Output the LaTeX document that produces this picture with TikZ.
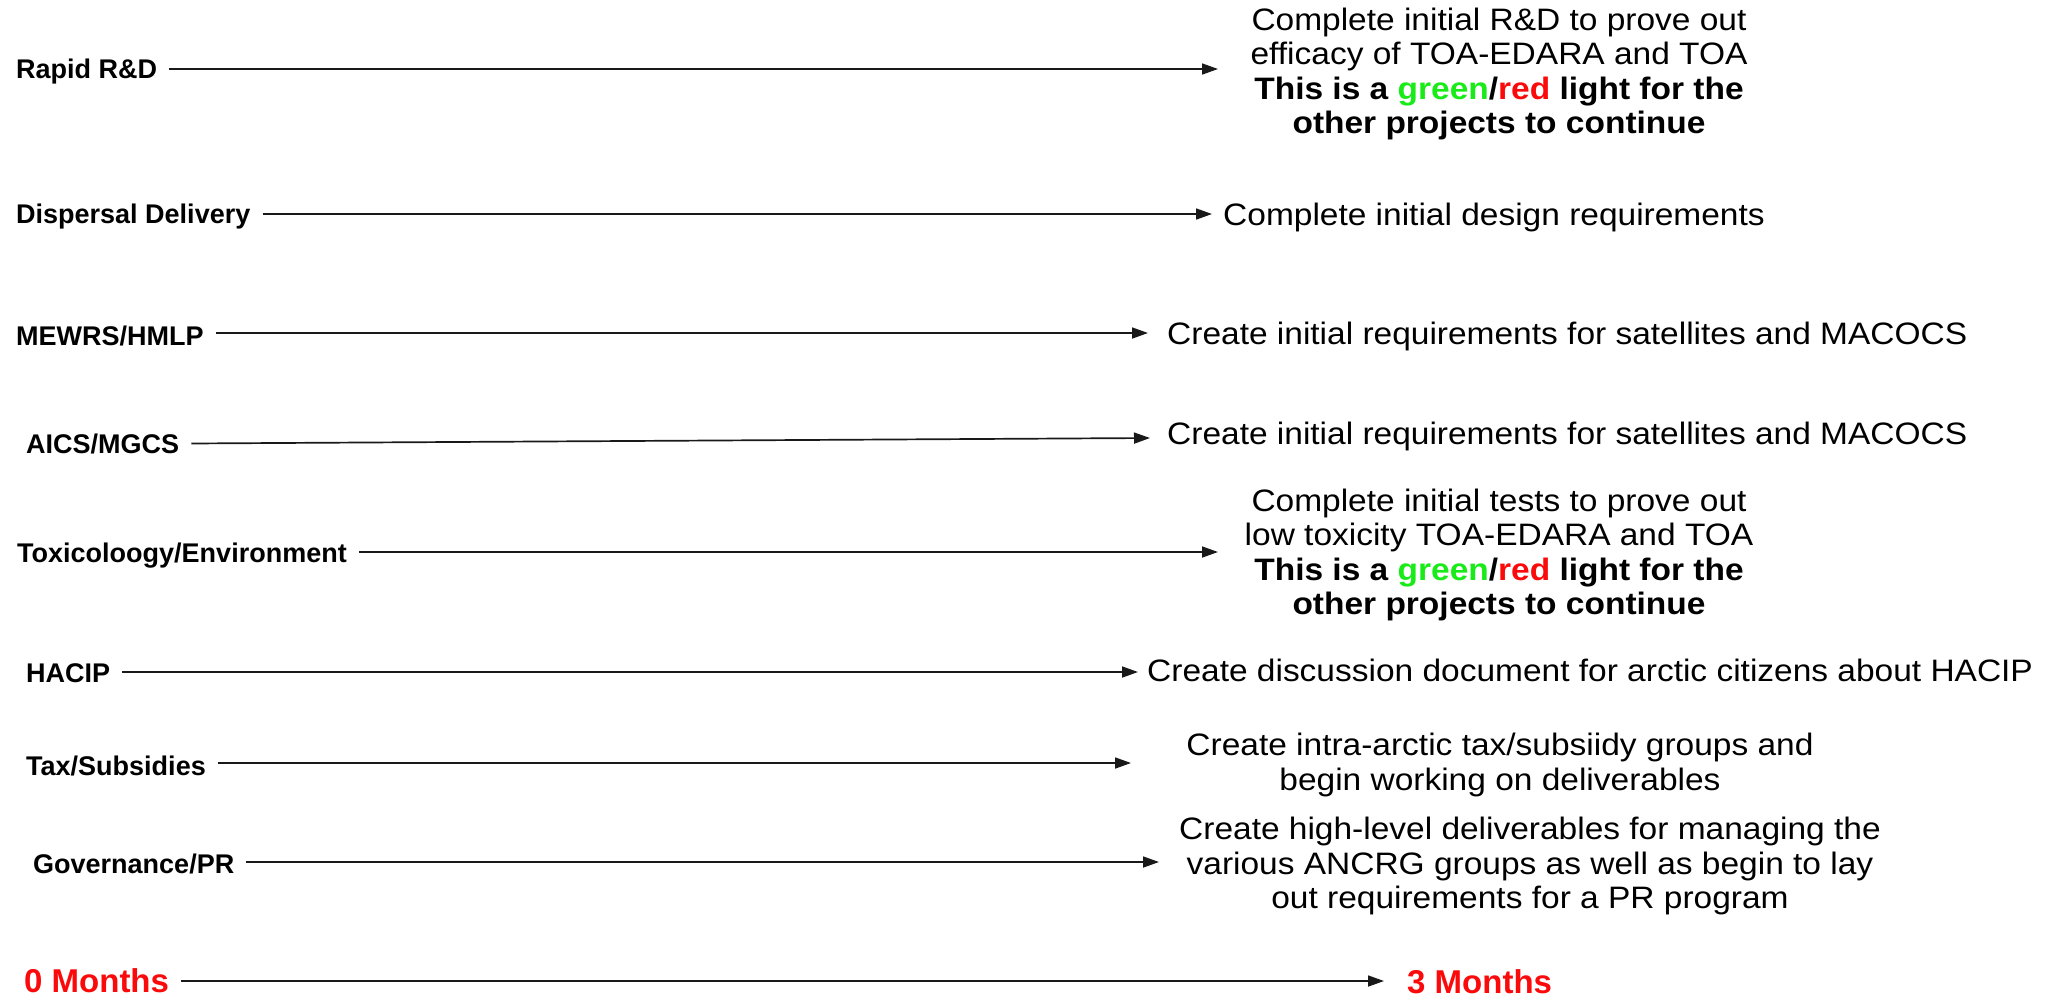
\documentclass[tikz,border=0pt]{standalone}
\usepackage{fontspec}
\setmainfont{Liberation Sans}
\newfontfamily\bodyfam[FakeStretch=1.08]{Liberation Sans}
\usetikzlibrary{arrows.meta}
\definecolor{lgreen}{RGB}{25,235,25}
\definecolor{mred}{RGB}{250,10,10}
\tikzset{
  lab/.style={anchor=base west, inner sep=0pt, font=\fontsize{27}{30}\selectfont\bfseries},
  mon/.style={anchor=base west, inner sep=0pt, text=mred, font=\fontsize{33}{36}\selectfont\bfseries},
  desc/.style={inner sep=0pt, align=center, font=\bodyfam\fontsize{31}{34.5}\selectfont},
  desc1/.style={desc, anchor=base west},
  arr/.style={-{Triangle[length=16pt,width=11pt]}, line width=1.7pt, black!90},
}
\newcommand{\gr}{\textbf{This is a \textcolor{lgreen}{green}/\textcolor{mred}{red} light for the}\\\textbf{other projects to continue}}
\begin{document}
\begin{tikzpicture}[x=1pt,y=-1pt]
\useasboundingbox (0,0) rectangle (2051,997);
% labels
\node[lab] (rapid) at (16,78) {Rapid R\&D};
\node[lab] (disp)  at (16,223) {Dispersal Delivery};
\node[lab] (mewrs) at (16,345) {MEWRS/HMLP};
\node[lab] (aics)  at (26,453) {AICS/MGCS};
\node[lab] (tox)   at (17,562) {Toxicoloogy/Environment};
\node[lab] (hacip) at (26,682) {HACIP};
\node[lab] (tax)   at (26,775) {Tax/Subsidies};
\node[lab] (gov)   at (33,873) {Governance/PR};
\node[mon] (m0)    at (24,992) {0 Months};
% arrow tips
\coordinate (tR) at (1218,69);
\coordinate (tD) at (1212,214);
\coordinate (tM) at (1148,333);
\coordinate (tA) at (1150,438);
\coordinate (tT) at (1218,552);
\coordinate (tH) at (1138,672);
\coordinate (tX) at (1131,763);
\coordinate (tG) at (1159,862);
\coordinate (t3) at (1384,981);
% descriptions
\node[desc] (dR) at (1499,74) {Complete initial R\&D to prove out\\efficacy of TOA-EDARA and TOA\\\gr};
\node[desc1] (dD) at (1223,225) {Complete initial design requirements};
\node[desc1] (dM) at (1167,344) {Create initial requirements for satellites and MACOCS};
\node[desc1] (dA) at (1167,444) {Create initial requirements for satellites and MACOCS};
\node[desc] (dT) at (1499,555) {Complete initial tests to prove out\\low toxicity TOA-EDARA and TOA\\\gr};
\node[desc1] (dH) at (1147,681) {Create discussion document for arctic citizens about HACIP};
\node[desc] (dX) at (1500,765) {Create intra-arctic tax/subsiidy groups and\\begin working on deliverables};
\node[desc] (dG) at (1530,866) {Create high-level deliverables for managing the\\various ANCRG groups as well as begin to lay\\out requirements for a PR program};
\node[mon] (m3) at (1407,993) {3 Months};
% arrows
\draw[arr] ([xshift=12pt]rapid.east |- tR) -- (tR);
\draw[arr] ([xshift=12pt]disp.east |- tD) -- (tD);
\draw[arr] ([xshift=12pt]mewrs.east |- tM) -- (tM);
\draw[arr] ([xshift=12pt]aics.east) -- (tA);
\draw[arr] ([xshift=12pt]tox.east |- tT) -- (tT);
\draw[arr] ([xshift=12pt]hacip.east |- tH) -- (tH);
\draw[arr] ([xshift=12pt]tax.east |- tX) -- (tX);
\draw[arr] ([xshift=12pt]gov.east |- tG) -- (tG);
\draw[arr] ([xshift=12pt]m0.east |- t3) -- (t3);
\end{tikzpicture}
\end{document}
